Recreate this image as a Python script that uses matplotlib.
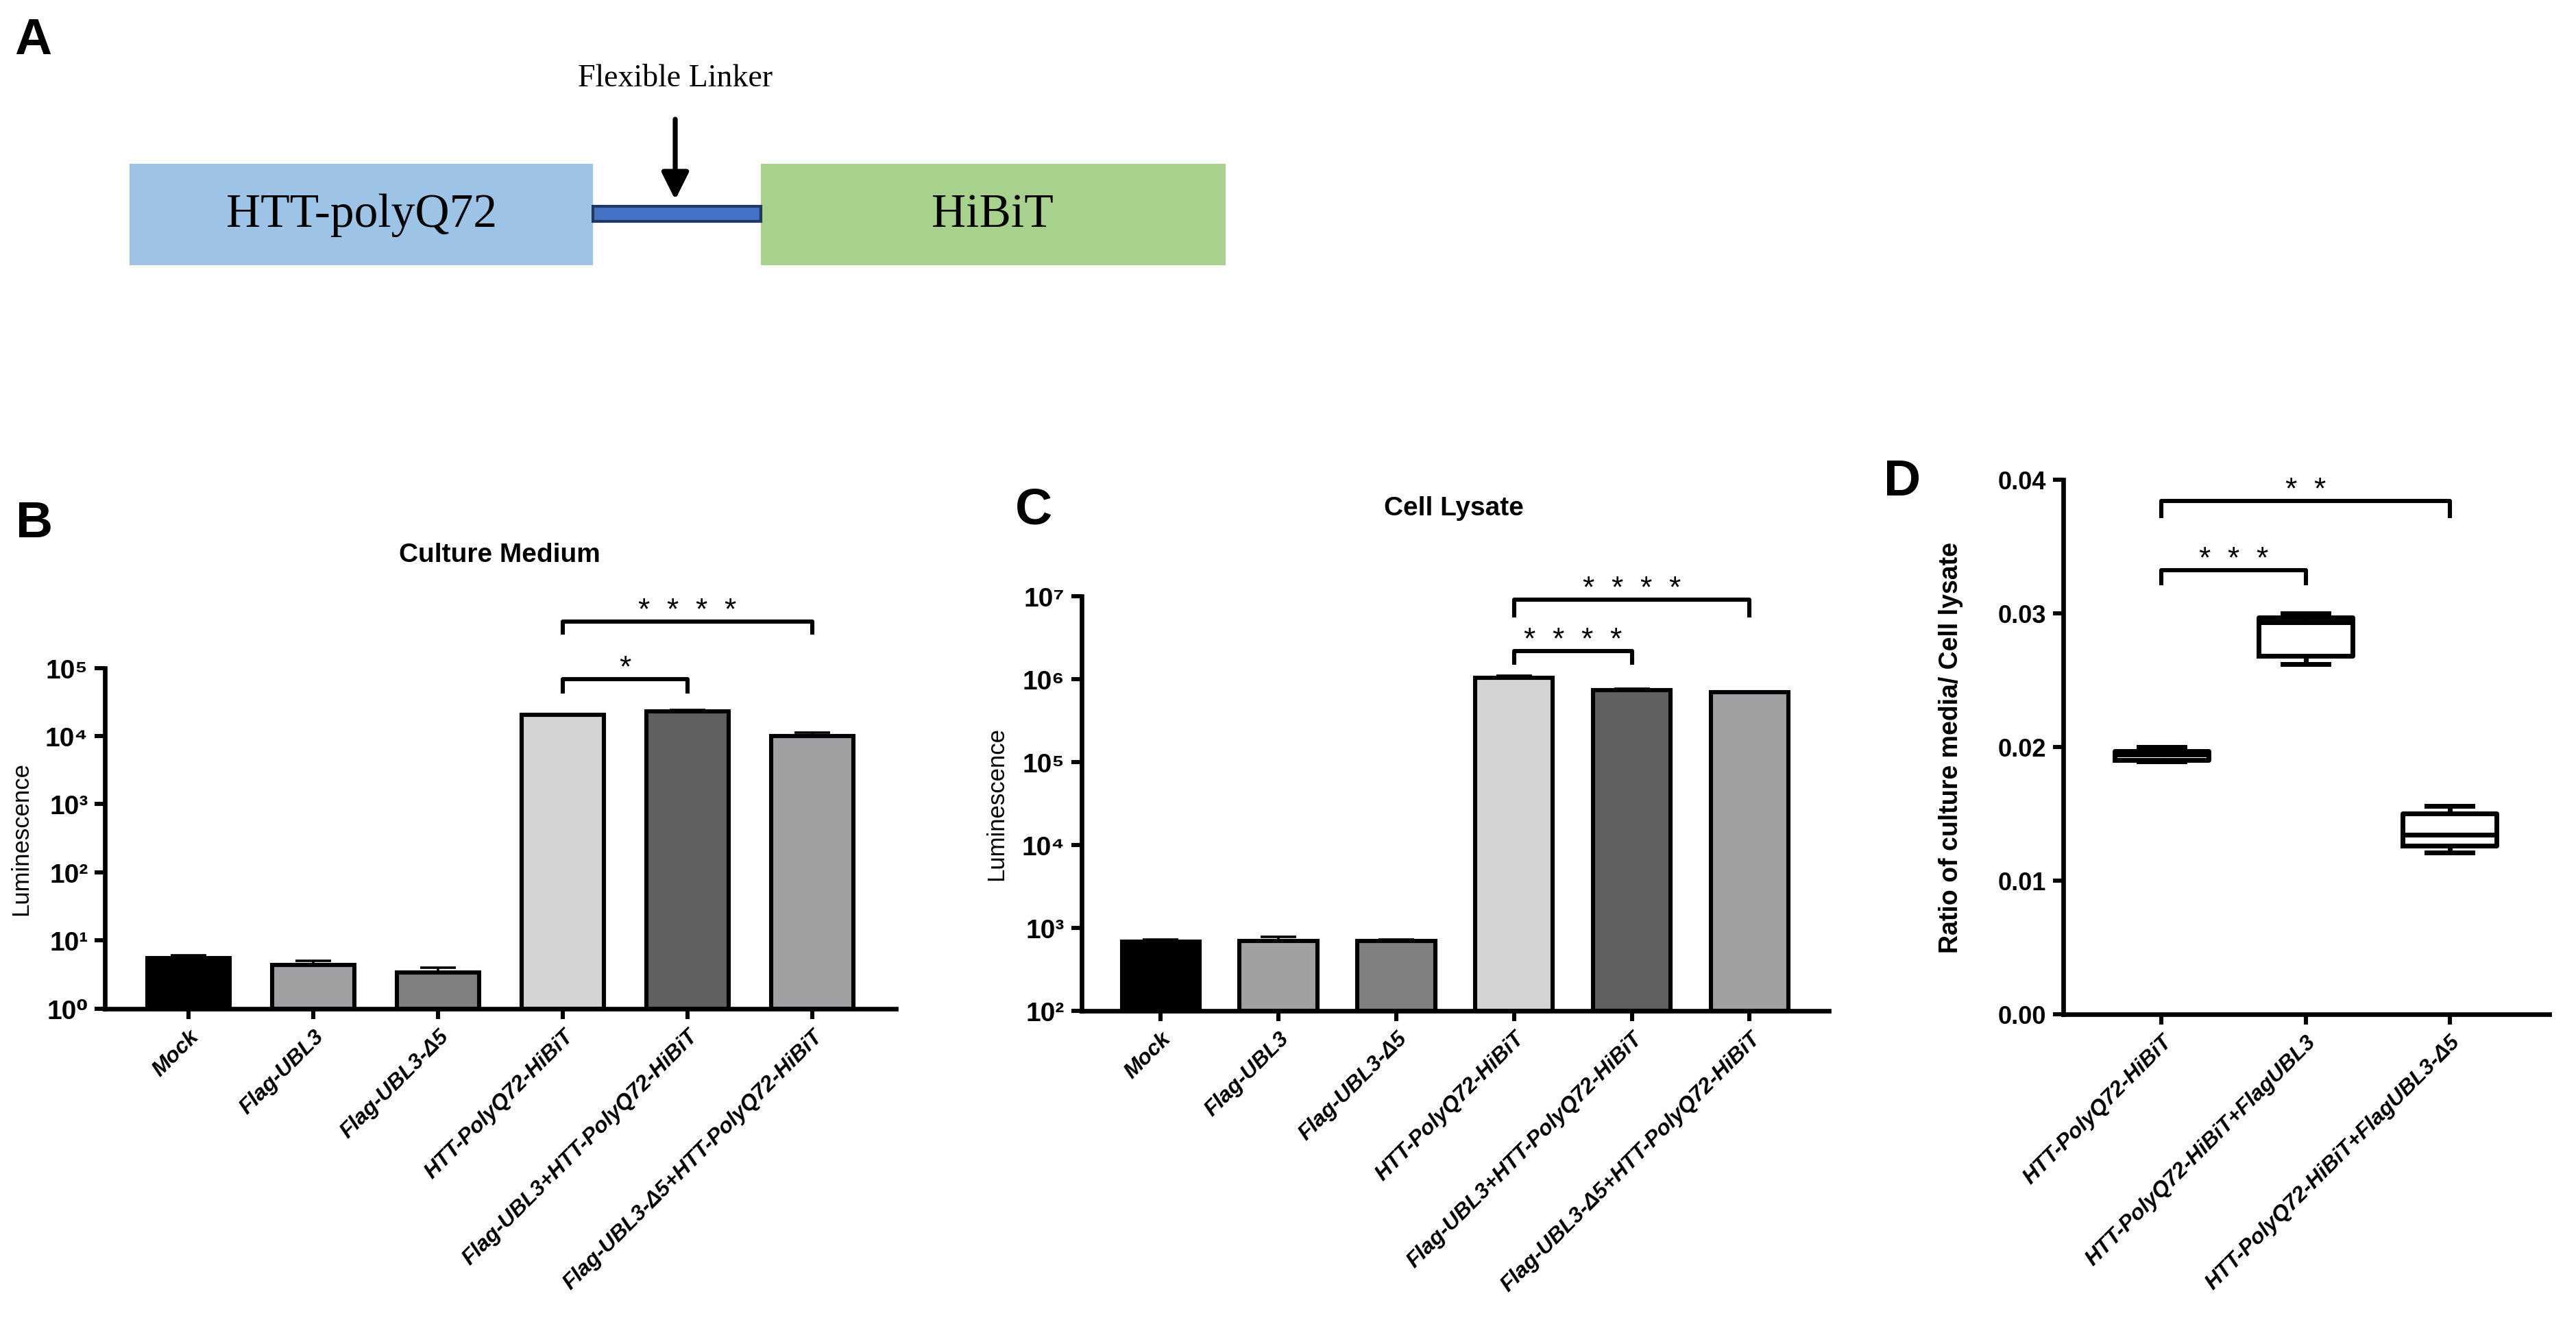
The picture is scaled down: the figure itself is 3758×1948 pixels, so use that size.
import numpy as np
import matplotlib
matplotlib.use('Agg')
import matplotlib.pyplot as plt
from matplotlib.patches import Rectangle

plt.rcParams['font.family'] = ['Liberation Sans', 'DejaVu Sans']

# ---- data ----
groups = ['Mock', 'Flag-UBL3', 'Flag-UBL3-Δ5', 'HTT-PolyQ72-HiBiT',
          'Flag-UBL3+HTT-PolyQ72-HiBiT', 'Flag-UBL3-Δ5+HTT-PolyQ72-HiBiT']
bar_colors = ['#000000', '#a0a0a2', '#808080', '#d4d4d4', '#606060', '#a0a0a2']

medium_mean = [5.45, 4.4, 3.35, 2.07e4, 2.3e4, 1.0e4]
medium_err = [0.55, 0.6, 0.65, 0.05e4, 0.1e4, 0.13e4]

lysate_mean = [681, 695, 695, 1.03e6, 7.35e5, 6.98e5]
lysate_err = [37, 92, 23, 0.06e6, 0.31e5, 0.1e5]

ratio_groups = ['HTT-PolyQ72-HiBiT', 'HTT-PolyQ72-HiBiT+FlagUBL3',
                'HTT-PolyQ72-HiBiT+FlagUBL3-Δ5']
ratio_min = [0.0189, 0.0262, 0.0121]
ratio_q1 = [0.0190, 0.0268, 0.0126]
ratio_med = [0.0194, 0.0293, 0.01345]
ratio_q3 = [0.0197, 0.0297, 0.0150]
ratio_max = [0.0200, 0.0300, 0.0156]

# significance brackets: (from, to, bracket y, leg end y, stars)
medium_sig = [(3, 4, 6.9e4, 4.2e4, '*'), (3, 5, 4.8e5, 3.1e5, '*  *  *  *')]
lysate_sig = [(3, 4, 2.17e6, 1.48e6, '*  *  *  *'), (3, 5, 9.0e6, 5.5e6, '*  *  *  *')]
ratio_sig = [(0, 1, 0.0332, 0.0321, '*  *  *'), (0, 2, 0.0384, 0.0371, '*  *')]

SUP = str.maketrans('0123456789', '⁰¹²³⁴⁵⁶⁷⁸⁹')

fig = plt.figure(figsize=(18.79, 9.745), dpi=200)
W, H = 1568.0, 813.0


def fx(x):
    return x / W


def fy(y):
    return 1 - y / H


def style_axes(ax):
    for s in ['top', 'right']:
        ax.spines[s].set_visible(False)
    for s in ['left', 'bottom']:
        ax.spines[s].set_linewidth(2.4)
    ax.tick_params(axis='both', direction='out', width=2.2, length=5.5)
    ax.tick_params(axis='y', which='minor', left=False)


def bracket(ax, i, j, y, leg, label):
    ax.plot([i, i, j, j], [leg, y, y, leg], color='black', lw=2.2,
            clip_on=False, solid_capstyle='butt')
    ax.annotate(label, xy=((i + j) / 2, y), xytext=(0, 1.5),
                textcoords='offset points', ha='center', va='baseline',
                fontsize=16, annotation_clip=False)


def bar_panel(ax, means, errs, base, top, sig):
    x = np.arange(len(groups))
    ax.set_yscale('log')
    ax.errorbar(x, means, yerr=[np.zeros(len(errs)), errs], fmt='none',
                ecolor='black', elinewidth=1.3, capsize=9.5, capthick=1.3,
                zorder=1)
    ax.bar(x, np.array(means) - base, bottom=base, width=0.66,
           color=bar_colors, edgecolor='black', linewidth=2.2, zorder=2)
    ax.set_ylim(base, top)
    ax.set_xlim(-0.67, 5.67)
    exps = range(int(np.log10(base)), int(np.log10(top)) + 1)
    ax.set_yticks([10.0 ** e for e in exps])
    ax.set_yticklabels(['10' + str(e).translate(SUP) for e in exps],
                       fontsize=14, fontweight='bold')
    ax.set_xticks(x)
    ax.set_xticklabels(groups, rotation=45, ha='right', rotation_mode='anchor',
                       fontsize=11.5, fontweight='bold', fontstyle='italic')
    ax.set_ylabel('Luminescence', fontsize=12.5)
    style_axes(ax)
    for s in sig:
        bracket(ax, *s)


# ---- panel A: construct schematic ----
axA = fig.add_axes([0, 0, 1, 1])
axA.set_xlim(0, W)
axA.set_ylim(H, 0)
axA.axis('off')
axA.add_patch(Rectangle((79, 100), 282, 62, facecolor='#9dc3e6', edgecolor='none'))
axA.add_patch(Rectangle((463, 100), 283, 62, facecolor='#a9d18e', edgecolor='none'))
axA.add_patch(Rectangle((361, 126), 102, 9, facecolor='#4472c4',
                        edgecolor='#1f3864', linewidth=1.5))
axA.annotate('', xy=(411, 122), xytext=(411, 73),
             arrowprops=dict(arrowstyle='-|>', lw=2.6, color='black',
                             mutation_scale=30, shrinkA=0, shrinkB=0))
serif = ['Liberation Serif', 'DejaVu Serif']
axA.text(220, 131, 'HTT-polyQ72', ha='center', va='center', fontsize=25,
         family=serif)
axA.text(604, 131, 'HiBiT', ha='center', va='center', fontsize=25,
         family=serif)
axA.text(411, 48, 'Flexible Linker', ha='center', va='center', fontsize=16.5,
         family=serif)

# ---- panel B ----
axB = fig.add_axes([fx(64), fy(614.3), fx(545.2 - 64), (614.3 - 407) / H])
bar_panel(axB, medium_mean, medium_err, 1.0, 1e5, medium_sig)
axB.yaxis.set_label_coords(-0.092, 0.5)

# ---- panel C ----
axC = fig.add_axes([fx(658.5), fy(615.7), fx(1113 - 658.5), (615.7 - 363.3) / H])
bar_panel(axC, lysate_mean, lysate_err, 1e2, 1e7, lysate_sig)
axC.yaxis.set_label_coords(-0.099, 0.5)

# ---- panel D ----
axD = fig.add_axes([fx(1256), fy(617.7), fx(1551.7 - 1256), (617.7 - 292.3) / H])
stats = []
for k in range(len(ratio_groups)):
    stats.append(dict(whislo=ratio_min[k], q1=ratio_q1[k], med=ratio_med[k],
                      q3=ratio_q3[k], whishi=ratio_max[k], fliers=[]))
lp = dict(color='black', linewidth=2.5)
axD.bxp(stats, positions=[0, 1, 2], widths=0.65, capwidths=0.32,
        showfliers=False, boxprops=lp, whiskerprops=lp, capprops=lp,
        medianprops=lp)
axD.set_xlim(-0.68, 2.69)
axD.set_ylim(0, 0.04)
axD.set_yticks([0, 0.01, 0.02, 0.03, 0.04])
axD.set_yticklabels(['%.2f' % v for v in [0, 0.01, 0.02, 0.03, 0.04]],
                    fontsize=13, fontweight='bold')
axD.set_xticks([0, 1, 2])
axD.set_xticklabels(ratio_groups, rotation=45, ha='right', rotation_mode='anchor',
                    fontsize=11.5, fontweight='bold', fontstyle='italic')
axD.set_ylabel('Ratio of culture media/ Cell lysate', fontsize=13.5,
               fontweight='bold')
axD.yaxis.set_label_coords(-0.206, 0.5)
style_axes(axD)
for s in ratio_sig:
    bracket(axD, *s)

# ---- titles and panel letters ----
fig.text(fx(304), fy(338), 'Culture Medium', ha='center', va='center',
         fontsize=14, fontweight='bold')
fig.text(fx(885), fy(309.7), 'Cell Lysate', ha='center', va='center',
         fontsize=14, fontweight='bold')
for letter, (lx, ly) in {'A': (20, 25), 'B': (20.7, 318.7),
                         'C': (629, 310.8), 'D': (1157.7, 293.4)}.items():
    fig.text(fx(lx), fy(ly), letter, ha='center', va='center',
             fontsize=27, fontweight='bold')

fig.savefig('out.png', dpi=200, facecolor='white')
